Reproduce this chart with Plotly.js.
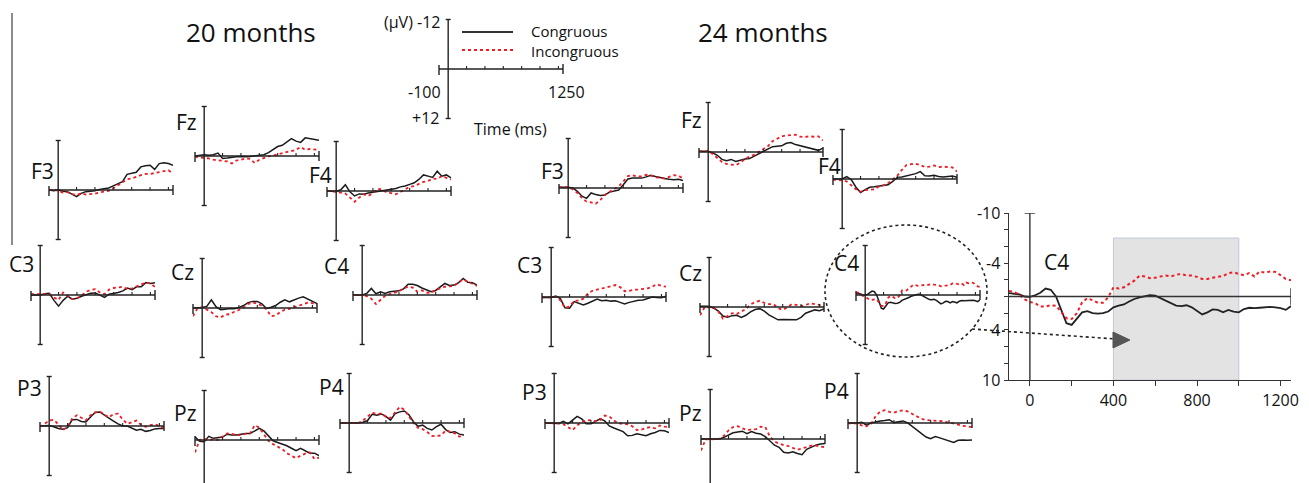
<!DOCTYPE html>
<html><head><meta charset="utf-8">
<script src="https://cdn.plot.ly/plotly-3.0.1.min.js"></script>
<style>html,body{margin:0;padding:0;background:#fff;} #chart{width:1309px;height:483px;}</style>
</head><body><div id="chart"></div>
<script>
// ---------------- DATA ----------------
const time = [-100,-50,0,50,100,150,200,250,300,350,400,450,500,550,600,650,700,750,800,850,900,950,1000,1050,1100,1150,1200,1250];
const time25 = [-100,-75,-50,-25,0,25,50,75,100,125,150,175,200,225,250,275,300,325,350,375,400,425,450,475,500,525,550,575,600,625,650,675,700,725,750,775,800,825,850,875,900,925,950,975,1000,1025,1050,1075,1100,1125,1150,1175,1200,1225,1250];

// 20 months (uV, negative plotted up)
const cong20_F3 = [0,0.2,0,0.3,0.4,1.0,1.6,0.8,0.4,0.3,0.2,-0.1,-0.3,-0.5,-1.0,-1.5,-2.0,-3.8,-4.0,-4.3,-5.6,-5.9,-6.0,-5.0,-6.4,-6.6,-6.4,-6.0];
const incong20_F3 = [0.1,-0.2,0.2,0.6,0.5,1.0,1.2,0.8,1.1,1.0,0.9,0.6,0.4,0.2,-0.4,-1.2,-1.8,-2.6,-2.8,-3.3,-3.6,-3.9,-3.9,-4.1,-4.3,-4.5,-4.8,-4.0];
const cong20_Fz = [0,-0.2,-0.3,-0.2,-0.3,-0.7,0.6,0.5,0.3,0.2,0.1,0.2,0.1,0.0,-0.1,-0.3,-0.8,-1.6,-2.3,-2.6,-3.5,-4.2,-3.6,-3.3,-4.4,-4.2,-4.0,-3.8];
const incong20_Fz = [0.2,0.3,0.4,0.6,0.9,1.0,1.2,1.3,1.8,1.1,0.9,0.6,0.7,1.7,0.9,0.4,0.1,-0.1,-0.4,-0.7,-1.0,-1.2,-1.5,-2.2,-1.5,-1.7,-1.6,-1.5];
const cong20_F4 = [0,0,0.1,-0.3,-1.5,0.2,1.2,0.7,0.8,0.5,0.3,0.2,0.0,-0.2,-0.4,-0.6,-1.0,-1.2,-1.6,-2.0,-2.8,-3.9,-3.6,-3.3,-4.8,-3.6,-3.9,-3.2];
const incong20_F4 = [0,0,0.2,0.4,0.6,1.6,2.6,1.6,0.8,1.2,0.5,-0.5,-0.4,0.4,0.5,0.8,0.2,-0.6,-1.0,-1.2,-1.8,-2.2,-2.4,-3.0,-2.9,-3.6,-3.2,-2.8];
const cong20_C3 = [0,0,0,-0.3,-0.4,1.3,2.7,1.3,0.3,1.0,0.8,0.3,0,-0.4,-0.5,0,0.6,-0.2,-0.4,-0.6,-1.0,-1.7,-1.3,-2.0,-2.0,-3.0,-2.8,-3.0];
const incong20_C3 = [-0.2,-0.2,-0.2,-0.3,-0.2,0.6,1.2,-0.6,0.2,1.0,0.8,0.2,-0.8,-1.2,-1.4,-0.6,-0.2,-1.3,-1.7,-1.8,-2.0,-1.4,-1.6,-2.1,-2.6,-3.0,-2.8,-2.0];
const cong20_Cz = [0,0,-0.1,-0.4,-2.0,-0.3,0.4,0.3,0.1,0.2,-0.1,-0.6,-1.3,-1.6,-1.6,-1.0,0.1,-0.2,-0.6,-1.4,-2.0,-1.5,-2.0,-2.4,-2.7,-2.2,-1.7,-1.1];
const incong20_Cz = [2.0,0.0,-0.2,0.5,1.0,2.0,2.3,1.6,1.5,0.9,0.5,-0.2,-1.0,-1.3,-1.1,-0.5,0.3,2.0,1.8,1.0,0.4,0.2,-0.2,-0.6,-0.9,-1.3,-1.2,-0.8];
const cong20_C4 = [0,0,0,-0.4,-1.6,-0.3,-0.8,-0.4,-0.8,-0.9,-1.0,-1.5,-2.6,-2.6,-2.3,-1.7,-1.3,-0.8,-1.1,-2.0,-2.8,-2.3,-2.4,-3.0,-4.0,-3.1,-3.0,-2.4];
const incong20_C4 = [0,0,0,0.3,0.9,2.2,1.2,0.2,-0.2,-0.6,-0.9,-1.6,-2.0,-1.8,-0.8,-1.1,-0.6,-0.5,-1.2,-1.6,-2.0,-2.1,-2.2,-3.0,-3.8,-3.2,-2.6,-2.2];
const cong20_P3 = [0,0,-0.1,0.2,0.6,0.8,0.4,-1.5,-1.6,-1.1,-1.0,-2.2,-3.3,-3.4,-2.6,-1.8,-1.2,-0.5,0,0,0.6,1.0,0.8,1.3,1.1,0.7,0.6,0.6];
const incong20_P3 = [0.2,-0.6,-1.3,-1.5,-0.4,1.0,0.2,-1.8,-2.6,-2.0,-1.4,-2.6,-3.3,-3.5,-2.7,-2.1,-2.9,-3.0,-1.6,-0.5,-0.9,-1.3,-0.3,0.2,-0.2,-0.4,0.0,0.5];
const cong20_Pz = [-0.8,0.3,0.4,-0.9,-0.4,-0.5,-0.7,-1.4,-1.2,-1.2,-1.4,-1.6,-1.6,-2.2,-2.8,-2.2,-1.0,0.2,0.6,1.0,1.4,2.0,2.6,2.0,2.6,3.2,3.2,3.8];
const incong20_Pz = [3.0,0.0,-0.3,0,-0.2,0,-0.8,-1.6,-1.5,-1.2,-1.2,-1.5,-1.6,-3.6,-3.0,-1.5,0.2,1.0,1.6,2.2,3.2,3.8,4.4,3.8,3.3,3.0,4.6,4.3];
const cong20_P4 = [0,0,0,0,0,-0.2,-0.6,-2.1,-1.9,-2.2,-1.6,-0.7,-2.3,-2.7,-2.9,-2.0,-0.3,0.8,0.5,1.3,1.7,0.9,0.3,1.6,2.3,2.1,2.7,2.9];
const incong20_P4 = [0,0,0,0,0,-0.6,-1.5,-2.5,-2.2,-2.3,-1.5,-1.2,-2.6,-3.9,-3.2,-1.5,0.0,1.2,1.5,2.2,3.1,3.2,3.0,1.8,2.1,2.5,3.3,3.1];

// 24 months
const cong24_F3 = [-0.2,-0.2,-0.2,0,0.8,2.0,2.5,1.2,1.6,1.8,1.7,1.0,0.7,0.5,-0.8,-2.2,-2.4,-2.4,-2.4,-2.7,-3.1,-2.8,-2.5,-2.3,-2.1,-2.0,-2.1,-1.8];
const incong24_F3 = [-0.2,-0.2,-0.2,0.3,1.2,2.4,3.3,3.5,3.8,2.9,1.7,0.9,0.3,-0.4,-1.6,-2.9,-3.1,-2.8,-2.8,-3.2,-3.0,-2.6,-2.5,-2.3,-2.7,-3.1,-3.0,-2.3];
const cong24_Fz = [-0.2,-0.2,-0.2,0.2,0.8,1.8,2.1,1.8,2.3,2.0,1.7,1.6,1.0,0.4,-0.1,-0.8,-1.3,-1.4,-1.5,-2.1,-2.3,-1.8,-1.5,-1.2,-1.0,-0.6,-0.4,-0.9];
const incong24_Fz = [-0.2,-0.2,-0.2,0.5,1.5,2.4,2.9,3.1,3.2,2.6,1.7,1.1,0.7,0.0,-0.6,-1.4,-2.6,-3.3,-3.8,-4.0,-4.1,-4.2,-3.7,-3.6,-3.8,-3.7,-3.8,-2.8];
const cong24_F4 = [0,0,0,-0.6,0.2,2.0,3.3,2.6,2.0,1.9,1.7,1.6,1.4,0.6,-0.4,-0.5,-0.8,-1.1,-1.3,-1.8,-0.8,-0.7,-0.9,-0.6,-0.5,-0.6,-0.7,-0.4];
const incong24_F4 = [0.2,0.2,0.3,0.6,1.5,2.5,3.1,2.7,2.6,2.5,1.8,1.5,1.0,0,-0.8,-2.2,-3.4,-3.6,-3.7,-3.4,-2.9,-3.0,-3.3,-2.9,-3.0,-2.9,-2.8,-1.8];
const cong24_C3 = [0.1,0.1,0.1,-0.2,0.4,2.6,2.7,1.1,1.5,1.9,1.5,1.0,0.5,0.9,0.8,1.0,0.9,1.3,1.7,1.3,1.0,0.8,0.7,0.4,0.0,0.1,0.2,-0.2];
const incong24_C3 = [0.1,0.1,0.1,-0.1,0.8,2.6,2.3,0.9,0.9,0.4,-0.9,-1.5,-1.8,-2.1,-2.3,-2.6,-2.9,-2.4,-1.4,-1.5,-1.8,-1.8,-2.0,-2.1,-2.5,-3.1,-2.7,-2.5];
const cong24_Cz = [-0.2,-0.2,-0.2,0.3,1.0,2.2,2.5,2.1,2.0,2.5,2.0,1.2,0.6,0.4,1.0,1.9,2.5,3.1,3.0,3.0,3.1,3.1,2.5,1.5,1.1,0.7,0.9,0.5];
const incong24_Cz = [2.0,0.1,0.1,0.1,1.1,2.8,2.2,1.5,1.7,1.0,0.5,-0.6,-1.2,-1.5,-1.0,-0.7,-0.7,0.3,0.7,0.1,-0.7,-0.5,-0.2,-0.5,-0.9,-0.7,-0.5,-0.1];
// C4 at 24 months (also shown enlarged), 25 ms grid
const cong24_C4 = [-0.4,-0.35,-0.25,0.0,0.05,-0.15,-0.45,-0.95,-0.8,0.0,1.5,3.2,3.4,2.6,1.9,1.75,2.0,2.05,2.0,1.8,1.3,1.1,0.95,0.6,0.3,0.1,0.0,-0.15,-0.1,0.2,0.5,0.85,1.1,1.15,1.05,1.3,1.7,2.15,1.9,1.55,1.6,1.9,1.6,1.8,1.9,1.5,1.35,1.4,1.35,1.3,1.25,1.3,1.4,1.6,1.15];
const incong24_C4 = [-0.65,-0.55,-0.2,0.35,0.65,0.8,1.2,1.2,1.05,1.1,1.85,2.6,2.7,2.0,0.7,0.2,0.45,0.75,0.75,0.1,-1.1,-0.95,-1.1,-1.5,-1.9,-2.5,-2.4,-2.2,-2.25,-2.4,-2.5,-2.4,-2.6,-2.7,-2.5,-2.5,-2.35,-2.1,-2.1,-2.25,-2.35,-2.45,-2.8,-2.9,-2.7,-2.55,-2.8,-2.4,-3.0,-2.85,-3.0,-2.95,-2.55,-2.1,-1.95];
const cong24_P3 = [0,0,0,0.1,-0.4,0.2,-0.7,-1.6,-1.0,0.2,0.2,-0.4,-1.0,-0.5,0.7,1.2,1.6,2.1,3.1,3.0,2.6,2.8,3.1,2.6,2.3,1.8,1.9,2.3];
const incong24_P3 = [0,0,0,0.1,0.3,1.0,1.7,0.6,-0.3,-0.6,-0.7,-0.4,-0.7,-1.8,-1.6,-0.6,0.1,0.2,0.3,0.8,1.7,1.6,1.2,1.0,1.3,0.6,0.9,1.0];
const cong24_Pz = [0,0,0,0,0,-0.4,-1.0,-1.5,-1.7,-1.9,-1.3,-1.8,-1.4,-1.2,-0.6,0.5,1.5,2.0,3.2,3.4,3.1,3.5,3.8,2.5,2.0,1.5,1.2,1.1];
const incong24_Pz = [2.8,0.1,0.1,0.1,0.0,-0.8,-2.1,-2.9,-3.1,-2.6,-2.2,-2.3,-2.4,-3.0,-2.9,-0.6,0.6,1.1,1.5,1.7,2.2,2.6,2.3,1.9,1.6,1.6,1.8,2.0];
const cong24_P4 = [0,0,0,-0.2,0.5,0.0,-0.3,-0.5,-0.6,-0.8,-0.1,-0.3,-0.5,0.0,0.8,1.6,2.5,3.4,3.8,3.3,3.6,4.0,4.3,4.7,4.2,4.1,4.2,4.1];
const incong24_P4 = [0.1,0.1,0.1,0.6,0.8,0.2,-1.6,-2.8,-3.1,-2.7,-2.5,-2.9,-3.1,-2.8,-2.2,-1.4,-1.0,-0.7,-0.6,-0.5,-0.5,-0.4,0.0,0.1,0.4,0.7,0.8,1.0];

const bigTickVals = [-10,-8,-6,-4,-2,0,2,4,6,8,10];
const bigTickText = ['-10','','','-4','','','','4','','','10'];
const bigXTickVals = [0,200,400,600,800,1000,1200];
const bigXTickText = ['0','','400','','800','','1200'];

// ---------------- LAYOUT ----------------
const W = 1309, H = 483, PW = 124, PH = 49.5;
const FONT = 'Open Sans, sans-serif';
const BLACK = '#1a1a1a', RED = '#ee1c24', AX = '#222';

const series = {
  '20F3':[time,cong20_F3,incong20_F3], '20Fz':[time,cong20_Fz,incong20_Fz], '20F4':[time,cong20_F4,incong20_F4],
  '20C3':[time,cong20_C3,incong20_C3], '20Cz':[time,cong20_Cz,incong20_Cz], '20C4':[time,cong20_C4,incong20_C4],
  '20P3':[time,cong20_P3,incong20_P3], '20Pz':[time,cong20_Pz,incong20_Pz], '20P4':[time,cong20_P4,incong20_P4],
  '24F3':[time,cong24_F3,incong24_F3], '24Fz':[time,cong24_Fz,incong24_Fz], '24F4':[time,cong24_F4,incong24_F4],
  '24C3':[time,cong24_C3,incong24_C3], '24Cz':[time,cong24_Cz,incong24_Cz], '24C4':[time25,cong24_C4,incong24_C4],
  '24P3':[time,cong24_P3,incong24_P3], '24Pz':[time,cong24_Pz,incong24_Pz], '24P4':[time,cong24_P4,incong24_P4]
};

const panels = [
 {key:'20F3', ch:'F3', L:49,  Z:190, lx:55,  ly:171},
 {key:'20Fz', ch:'Fz', L:195, Z:156, lx:198, ly:122},
 {key:'20F4', ch:'F4', L:327, Z:191, lx:333, ly:175},
 {key:'20C3', ch:'C3', L:31,  Z:295, lx:35,  ly:264},
 {key:'20Cz', ch:'Cz', L:193, Z:308, lx:195, ly:272},
 {key:'20C4', ch:'C4', L:353, Z:295, lx:350, ly:266},
 {key:'20P3', ch:'P3', L:40,  Z:426, lx:43,  ly:388},
 {key:'20Pz', ch:'Pz', L:195, Z:440, lx:198, ly:413},
 {key:'20P4', ch:'P4', L:340, Z:423, lx:345, ly:387},
 {key:'24F3', ch:'F3', L:559, Z:188, lx:565, ly:171},
 {key:'24Fz', ch:'Fz', L:699, Z:152, lx:703, ly:120},
 {key:'24F4', ch:'F4', L:833, Z:179, lx:842, ly:166},
 {key:'24C3', ch:'C3', L:542, Z:297, lx:543, ly:265},
 {key:'24Cz', ch:'Cz', L:700, Z:307, lx:703, ly:273},
 {key:'24C4', ch:'C4', L:856, Z:295, lx:860, ly:263},
 {key:'24P3', ch:'P3', L:545, Z:423, lx:548, ly:392},
 {key:'24Pz', ch:'Pz', L:701, Z:439, lx:703, ly:413},
 {key:'24P4', ch:'P4', L:848, Z:423, lx:850, ly:391}
];
const scalePanel = {L:439, Z:69};

const PX = x => x / W, PY = y => 1 - y / H;
const traces = [], shapes = [], annotations = [];
const layout = {
  width: W, height: H, margin:{l:0,r:0,t:0,b:0,pad:0}, autosize:false,
  paper_bgcolor:'#fff', plot_bgcolor:'rgba(0,0,0,0)', showlegend:false, hovermode:false
};

function seg(x0,y0,x1,y1,color,width,dash){
  shapes.push({type:'line', xref:'paper', yref:'paper', x0:PX(x0), y0:PY(y0), x1:PX(x1), y1:PY(y1),
    line:{color:color||AX, width:width||1.4, dash:dash||'solid'}});
}
function decorate(p){
  const tx = t => p.L + (t + 100) / 1350 * PW;
  const x0 = tx(0);
  seg(tx(-100), p.Z, tx(1250), p.Z);
  seg(x0, p.Z - PH, x0, p.Z + PH);
  seg(tx(-100), p.Z - 4, tx(-100), p.Z + 6);
  seg(tx(1250), p.Z - 5, tx(1250), p.Z + 5);
  seg(x0 - 2.5, p.Z - PH, x0 + 2.5, p.Z - PH);
  seg(x0 - 2.5, p.Z + PH, x0 + 2.5, p.Z + PH);
  [200,400,600,800,1000,1200].forEach(t => seg(tx(t), p.Z, tx(t), p.Z - 3, AX, 1.1));
}
function text(str, x, y, size, xanchor, yanchor){
  annotations.push({text:str, xref:'paper', yref:'paper', x:PX(x), y:PY(y), showarrow:false, borderpad:0,
    xanchor:xanchor||'center', yanchor:yanchor||'middle', font:{family:FONT, size:size, color:'#111'}});
}

panels.forEach((p, i) => {
  const k = i + 1;
  const top = Math.max(p.Z - PH, 0), bot = Math.min(p.Z + PH, H);
  layout['xaxis'+k] = {domain:[PX(p.L), PX(p.L + PW)], range:[-100,1250], visible:false, anchor:'y'+k};
  layout['yaxis'+k] = {domain:[PY(bot), PY(top)], range:[12*(bot - p.Z)/PH, -12*(p.Z - top)/PH], visible:false, anchor:'x'+k};
  const s = series[p.key];
  traces.push({x:s[0], y:s[1], xaxis:'x'+k, yaxis:'y'+k, mode:'lines', line:{color:BLACK, width:1.5}});
  traces.push({x:s[0], y:s[2], xaxis:'x'+k, yaxis:'y'+k, mode:'lines', line:{color:RED, width:1.8, dash:'dot'}});
  decorate(p);
  text(p.ch, p.lx, p.ly, 21, 'right', 'middle');
});
decorate(scalePanel);

// Enlarged C4 (24 months)
const B = 19;
layout['xaxis'+B] = {domain:[PX(1009), PX(1291)], range:[-100,1250], anchor:'y'+B, showline:true, linecolor:'#333', linewidth:1.4,
  ticks:'outside', ticklen:5, tickcolor:'#333', tickvals:bigXTickVals, ticktext:bigXTickText, showgrid:false, zeroline:false,
  tickfont:{family:FONT, size:16, color:'#111'}};
layout['yaxis'+B] = {domain:[PY(380), PY(213)], range:[10,-10], anchor:'x'+B, showline:true, linecolor:'#333', linewidth:1.4,
  ticks:'outside', ticklen:4, tickcolor:'#333', tickvals:bigTickVals, ticktext:bigTickText, showgrid:false, zeroline:false,
  tickfont:{family:FONT, size:16, color:'#111'}};
shapes.push({type:'rect', xref:'x'+B, yref:'y'+B, x0:400, x1:1000, y0:-7, y1:10, layer:'below',
  fillcolor:'#e3e3e3', line:{color:'#c4c8dc', width:1}});
[[-100,0,1250,0],[0,-10,0,10],[1250,-1,1250,1],[-25,-10,25,-10]].forEach(c => shapes.push({type:'line', xref:'x'+B, yref:'y'+B,
  x0:c[0], y0:c[1], x1:c[2], y1:c[3], line:{color:'#333', width:1.4}}));
traces.push({x:time25, y:cong24_C4, xaxis:'x'+B, yaxis:'y'+B, mode:'lines', line:{color:'#222', width:1.8}});
traces.push({x:time25, y:incong24_C4, xaxis:'x'+B, yaxis:'y'+B, mode:'lines', line:{color:RED, width:2, dash:'dot'}});
text('C4', 1043, 262, 21, 'left', 'middle');

// Ellipse and dotted arrow
shapes.push({type:'circle', xref:'paper', yref:'paper', x0:PX(825), x1:PX(987), y0:PY(357), y1:PY(225),
  line:{color:'#222', width:1.6, dash:'dot'}});
seg(972, 329, 1116, 339, '#222', 1.6, 'dot');
shapes.push({type:'path', xref:'paper', yref:'paper',
  path:`M ${PX(1113)} ${PY(332)} L ${PX(1130)} ${PY(340)} L ${PX(1113)} ${PY(348)} Z`, fillcolor:'#555', line:{color:'#555', width:1}});

// Left rule, titles
seg(12, 13, 12, 245, '#666', 1.5);
text('20 months', 251, 32, 26);
text('24 months', 763, 32, 26);

// Scale panel texts + legend
text('(µV) -12', 441, 22, 16, 'right', 'middle');
text('-100', 424, 92, 16);
text('1250', 566, 92, 16);
text('+12', 425, 118, 16);
text('Time (ms)', 510, 129, 16);
seg(462, 32, 513, 32, '#333', 2);
seg(462, 50, 513, 50, RED, 1.8, 'dot');
text('Congruous', 530, 31, 15, 'left', 'middle');
text('Incongruous', 530, 51, 15, 'left', 'middle');

layout.shapes = shapes;
layout.annotations = annotations;
Plotly.newPlot('chart', traces, layout, {staticPlot:true, displayModeBar:false});
</script>
</body></html>
